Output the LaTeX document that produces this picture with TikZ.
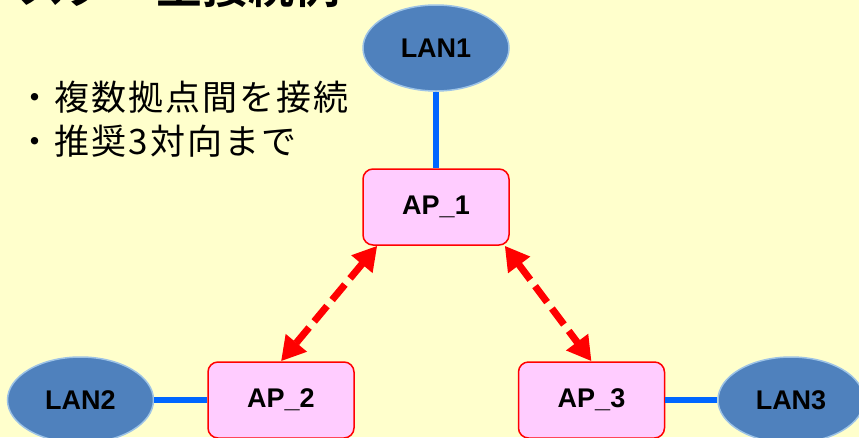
\documentclass[tikz,border=0pt]{standalone}
\usepackage{fontspec}
\setmainfont{Liberation Sans}
\newfontfamily\jpfont[LetterSpace=6]{Noto Sans CJK JP}
\newfontfamily\jpbold{Noto Sans CJK JP Bold}
\usetikzlibrary{arrows.meta,shapes.geometric}

\definecolor{bgyellow}{HTML}{FFFFCC}
\definecolor{lanfill}{HTML}{4F81BD}
\definecolor{lanedge}{HTML}{9DC3E6}
\definecolor{apfill}{HTML}{FFCCFF}
\definecolor{linkblue}{HTML}{0066FF}
\definecolor{wanred}{HTML}{FF0000}

\tikzset{
  lan/.style={ellipse, draw=lanedge, line width=1.5pt, fill=lanfill,
    minimum width=146pt, minimum height=86pt, inner sep=0pt,
    font=\fontsize{27}{32}\selectfont\bfseries},
  apbox/.style={rectangle, rounded corners=10pt, draw=wanred, line width=1.5pt,
    fill=apfill, minimum width=146pt, minimum height=76pt, inner sep=0pt,
    font=\fontsize{27}{32}\selectfont\bfseries},
  wired/.style={draw=linkblue, line width=6pt},
  wanlink/.style={draw=wanred, line width=7pt, dash pattern=on 20pt off 8pt,
    {Triangle[length=24pt,width=26pt]}-{Triangle[length=24pt,width=26pt]}},
  bullet/.style={anchor=west, inner sep=0pt, font=\fontsize{35}{40}\jpfont}
}

\begin{document}
\begin{tikzpicture}[x=1pt,y=-1pt]
  \useasboundingbox (0,0) rectangle (859,437);
  \clip (0,0) rectangle (859,437);
  \fill[bgyellow] (0,0) rectangle (859,437);

  % heading, partly above the top edge
  \node[anchor=base west, inner sep=0pt, font=\fontsize{46}{50}\jpbold] (title)
    at (18,3) {スター型接続例};

  % bullet points
  \node[bullet] (b1) at (17,97) {・複数拠点間を接続};
  \node[bullet] (b2) at (17,141) {・推奨3対向まで};

  % LANs and access points
  \node[lan] (lan1) at (436,48) {LAN1};
  \node[apbox] (ap1) at (436,207) {AP\_1};
  \node[apbox] (ap2) at (281,400) {AP\_2};
  \node[apbox] (ap3) at (591.5,400) {AP\_3};
  \node[lan] (lan2) at (80.5,400) {LAN2};
  \node[lan] (lan3) at (791,400) {LAN3};

  % wired links
  \draw[wired] (lan1) -- (ap1);
  \draw[wired] (lan2) -- (ap2);
  \draw[wired] (ap3) -- (lan3);

  % wireless links between access points
  \coordinate (ap1l) at ([xshift=15pt]ap1.south west);
  \coordinate (ap1r) at ([xshift=-5pt]ap1.south east);
  \draw[wanlink] (ap1l) -- (ap2.north);
  \draw[wanlink] (ap1r) -- (ap3.north);
\end{tikzpicture}
\end{document}
